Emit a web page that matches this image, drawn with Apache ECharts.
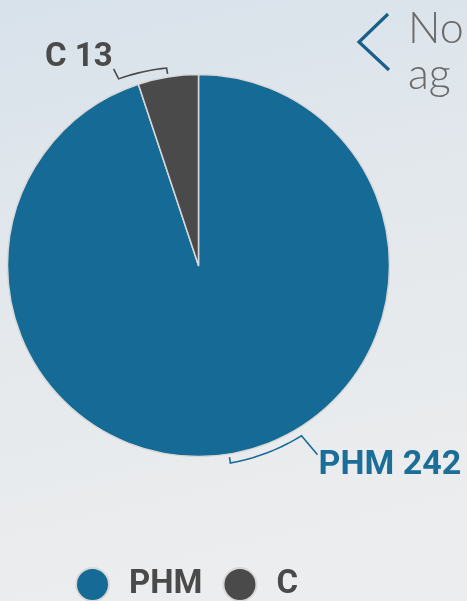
<!DOCTYPE html>
<html><head><meta charset="utf-8">
<script src="https://cdn.jsdelivr.net/npm/echarts@6/dist/echarts.min.js"></script>
<style>html,body{margin:0;padding:0;width:467px;height:601px;overflow:hidden}#c{width:467px;height:601px}</style>
</head><body><div id="c"></div>
<script>
// ---- data ----
const categories = ['PHM', 'C'];
const values = [242, 13];
const headerLines = ['No', 'ag'];

// ---- style ----
const colors = ['#156b95', '#4a4a4a'];
const labelColors = ['#1a6e97', '#4a4a4a'];
const bracketSpanDeg = [22, 14];
const bracketEndPad = [8, 12];
const leaderOffset = [[16, 19], [-5, -10]];
const labelOffset = [[17, 30], [-6, -21]];
const labelAlign = ['left', 'right'];
const labelSize = [34, 33];

const chart = echarts.init(document.getElementById('c'), null, {renderer: 'canvas'});
chart.setOption({
  animation: false,
  backgroundColor: {type: 'linear', x: 0, y: 0, x2: 0.3, y2: 1, colorStops: [
    {offset: 0, color: '#d8e2eb'}, {offset: 0.45, color: '#e3e8ec'}, {offset: 1, color: '#ecedee'}]},
  legend: {
    left: 75, top: 567, padding: 0, itemWidth: 33, itemHeight: 33, icon: 'circle', itemGap: 20,
    textStyle: {fontFamily: 'Roboto', fontWeight: 'bold', fontSize: 33, color: '#4a4a4a', padding: [0, 0, 0, 15]},
    data: categories
  },
  series: [{
    type: 'pie', center: [198.5, 265.5], radius: 191, startAngle: 90, clockwise: true,
    label: {show: false}, labelLine: {show: false}, emphasis: {disabled: true},
    itemStyle: {borderColor: '#d8d8d8', borderWidth: 1.5},
    data: categories.map((n, i) => ({name: n, value: values[i], itemStyle: {color: colors[i]}}))
  }]
});

const data = chart.getModel().getSeriesByIndex(0).getData();
const graphics = [];
for (let i = 0; i < categories.length; i++) {
  const L = data.getItemLayout(i);
  const mid = (L.startAngle + L.endAngle) / 2;
  const pt = (a, rad) => [L.cx + rad * Math.cos(a), L.cy + rad * Math.sin(a)];
  const span = bracketSpanDeg[i] * Math.PI / 180;
  const pts = [pt(mid, L.r + 3)];
  const n = 10;
  for (let k = 0; k <= n; k++) {
    const t = k / n;
    pts.push(pt(mid - span * t, L.r + 9 + (bracketEndPad[i] - 9) * t));
  }
  const end = pts[pts.length - 1];
  pts.push([end[0] + leaderOffset[i][0], end[1] + leaderOffset[i][1]]);
  graphics.push({type: 'polyline', shape: {points: pts}, style: {stroke: colors[i], lineWidth: 1.6, fill: null}, z: 10});
  graphics.push({type: 'text', x: end[0] + labelOffset[i][0], y: end[1] + labelOffset[i][1], z: 10,
    style: {text: categories[i] + ' ' + values[i], fill: labelColors[i], font: 'bold ' + labelSize[i] + 'px Roboto',
      align: labelAlign[i], verticalAlign: 'middle'}});
}
// header fragment (top right)
graphics.push({type: 'polyline', shape: {points: [[388, 14], [359, 42], [389, 70]]}, style: {stroke: '#1a5f8c', lineWidth: 3.2, fill: null}});
graphics.push({type: 'text', x: 408, y: 29, style: {text: headerLines[0], fill: '#6b6b6b', font: '300 43px Lato', align: 'left', verticalAlign: 'middle'}});
graphics.push({type: 'text', x: 408, y: 75, style: {text: headerLines[1], fill: '#6b6b6b', font: '300 43px Lato', align: 'left', verticalAlign: 'middle'}});
chart.setOption({graphic: graphics});
</script></body></html>
